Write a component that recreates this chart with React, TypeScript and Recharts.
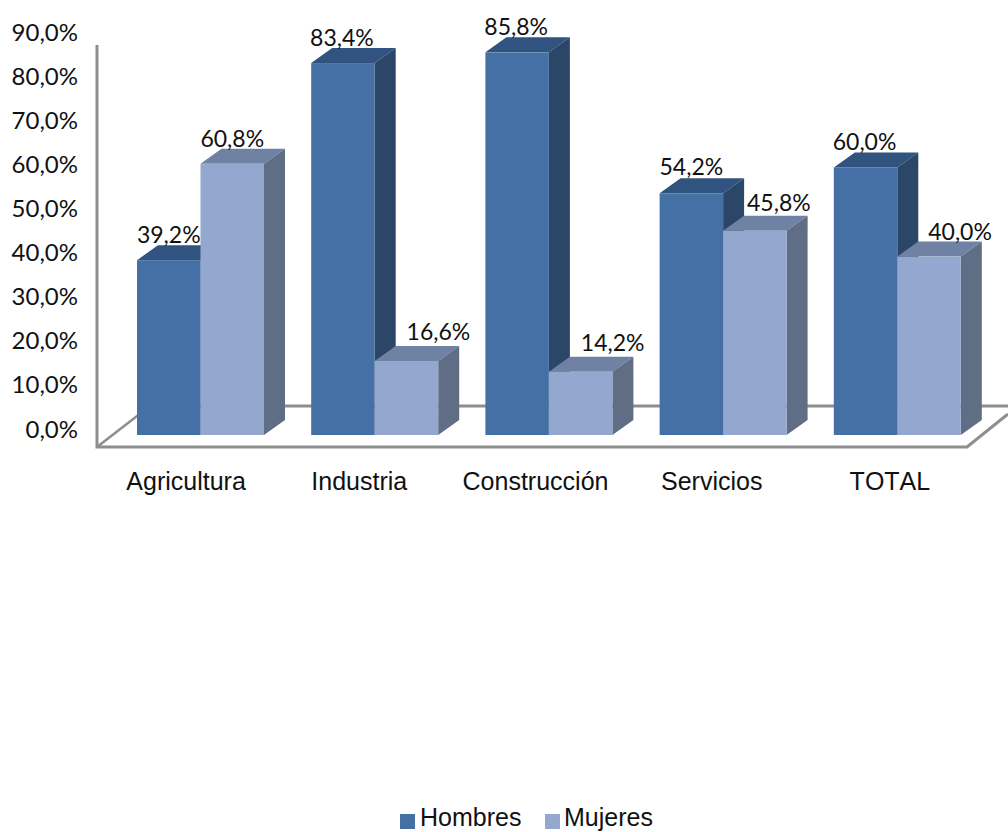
import React from "react";
import { BarChart, Bar, XAxis, YAxis, Legend, LabelList, Customized } from "recharts";

const categories = ["Agricultura", "Industria", "Construcción", "Servicios", "TOTAL"];
const hombres = [39.2, 83.4, 85.8, 54.2, 60.0];
const mujeres = [60.8, 16.6, 14.2, 45.8, 40.0];
const yTicks = [0, 10, 20, 30, 40, 50, 60, 70, 80, 90];

const data = categories.map((name, i) => ({ name, Hombres: hombres[i], Mujeres: mujeres[i] }));

// small hand placement offsets of the text, as in the reference
const hombresLabelNudge = [[0, 0], [-1, 0], [-1, 0], [0, -1], [-1, 0]];
const mujeresLabelNudge = [[0, 0], [32, -4], [32, -4], [24, -3], [31, 0]];
const axisLabelNudge = [0, -1, 1, 3, 7];

const DX = 21;
const DY = 15;
const pct = (v: number) => v.toFixed(1).replace(".", ",") + "%";
const CAL = "Lato, 'Open Sans', sans-serif";
const ARIAL = "'Liberation Sans', Arial, sans-serif";
const colors = {
  Hombres: { front: "#4470A6", top: "#30537F", side: "#2C4668" },
  Mujeres: { front: "#94A8CF", top: "#6F82A4", side: "#5F6D85" },
};

const Bar3D = (c: { front: string; top: string; side: string }) => (p: any) => {
  const { x, y, width, height } = p;
  const r = x + width;
  const b = y + height;
  return (
    <g>
      <polygon points={`${x},${y} ${x + DX},${y - DY} ${r + DX},${y - DY} ${r},${y}`} fill={c.top} />
      <polygon points={`${r},${y} ${r + DX},${y - DY} ${r + DX},${b - DY} ${r},${b}`} fill={c.side} />
      <rect x={x} y={y} width={width} height={height} fill={c.front} />
    </g>
  );
};

const Frame = () => (
  <g fill="none" stroke="#8E8E8E" strokeWidth={3}>
    <polyline points="97,45 97,447 967,447 1008,414" />
    <polyline points="97,447 150,406" strokeWidth={2.5} />
    <line x1={150} y1={406} x2={1008} y2={406} strokeWidth={3} />
  </g>
);

const YTick = ({ y, payload }: any) => (
  <text x={78} y={y} dy={8.5} textAnchor="end" fontFamily={CAL} fontSize={24} fill="#111">
    {pct(payload.value)}
  </text>
);

const XTick = ({ x, index, payload }: any) => (
  <text
    x={x - 14 + axisLabelNudge[index]}
    y={490}
    textAnchor="middle"
    fontFamily={ARIAL}
    fontSize={25}
    fill="#111"
    style={{ fontKerning: "none" }}
  >
    {payload.value}
  </text>
);

const ValueLabel = (nudge: number[][]) => ({ x, y, width, value, index }: any) => (
  <text
    x={x + width / 2 + nudge[index][0]}
    y={y - 17 + nudge[index][1]}
    textAnchor="middle"
    fontFamily={CAL}
    fontSize={23}
    fill="#111"
  >
    {pct(value)}
  </text>
);

const HombresLabel = ValueLabel(hombresLabelNudge);
const MujeresLabel = ValueLabel(mujeresLabelNudge);

const LegendBox = () => (
  <div style={{ position: "relative", height: 27, fontFamily: ARIAL, fontSize: 25, color: "#111" }}>
    {(["Hombres", "Mujeres"] as const).map((k, i) => (
      <React.Fragment key={k}>
        <span style={{ position: "absolute", left: i ? 545 : 400, top: 9, width: 15, height: 15, background: colors[k].front }} />
        <span style={{ position: "absolute", left: i ? 564 : 420, top: -3, lineHeight: "30px" }}>{k}</span>
      </React.Fragment>
    ))}
  </div>
);

export default function App() {
  return (
    <div style={{ position: "absolute", left: 0, top: 0, width: 1008, height: 832, overflow: "hidden", background: "#fff" }}>
      <BarChart
        width={1008}
        height={832}
        data={data}
        margin={{ left: 112, right: 24, top: 14, bottom: 337 }}
        barGap={0}
        barSize={63.5}
      >
        <Customized component={Frame} />
        <XAxis dataKey="name" height={60} axisLine={false} tickLine={false} tick={<XTick />} interval={0} />
        <YAxis yAxisId="v" domain={[0, 94.4]} width={0} hide />
        <YAxis
          yAxisId="t"
          domain={[-1.36, 94.1]}
          ticks={yTicks}
          width={1}
          axisLine={false}
          tickLine={false}
          tick={<YTick />}
          allowDataOverflow
        />
        <Bar yAxisId="v" dataKey="Hombres" isAnimationActive={false} shape={Bar3D(colors.Hombres)}>
          <LabelList dataKey="Hombres" content={<HombresLabel />} />
        </Bar>
        <Bar yAxisId="v" dataKey="Mujeres" isAnimationActive={false} shape={Bar3D(colors.Mujeres)}>
          <LabelList dataKey="Mujeres" content={<MujeresLabel />} />
        </Bar>
        <Legend
          layout="horizontal"
          verticalAlign="middle"
          align="center"
          content={<LegendBox />}
          wrapperStyle={{ position: "absolute", top: 805, left: 0, width: 1008, margin: 0 }}
        />
      </BarChart>
    </div>
  );
}
